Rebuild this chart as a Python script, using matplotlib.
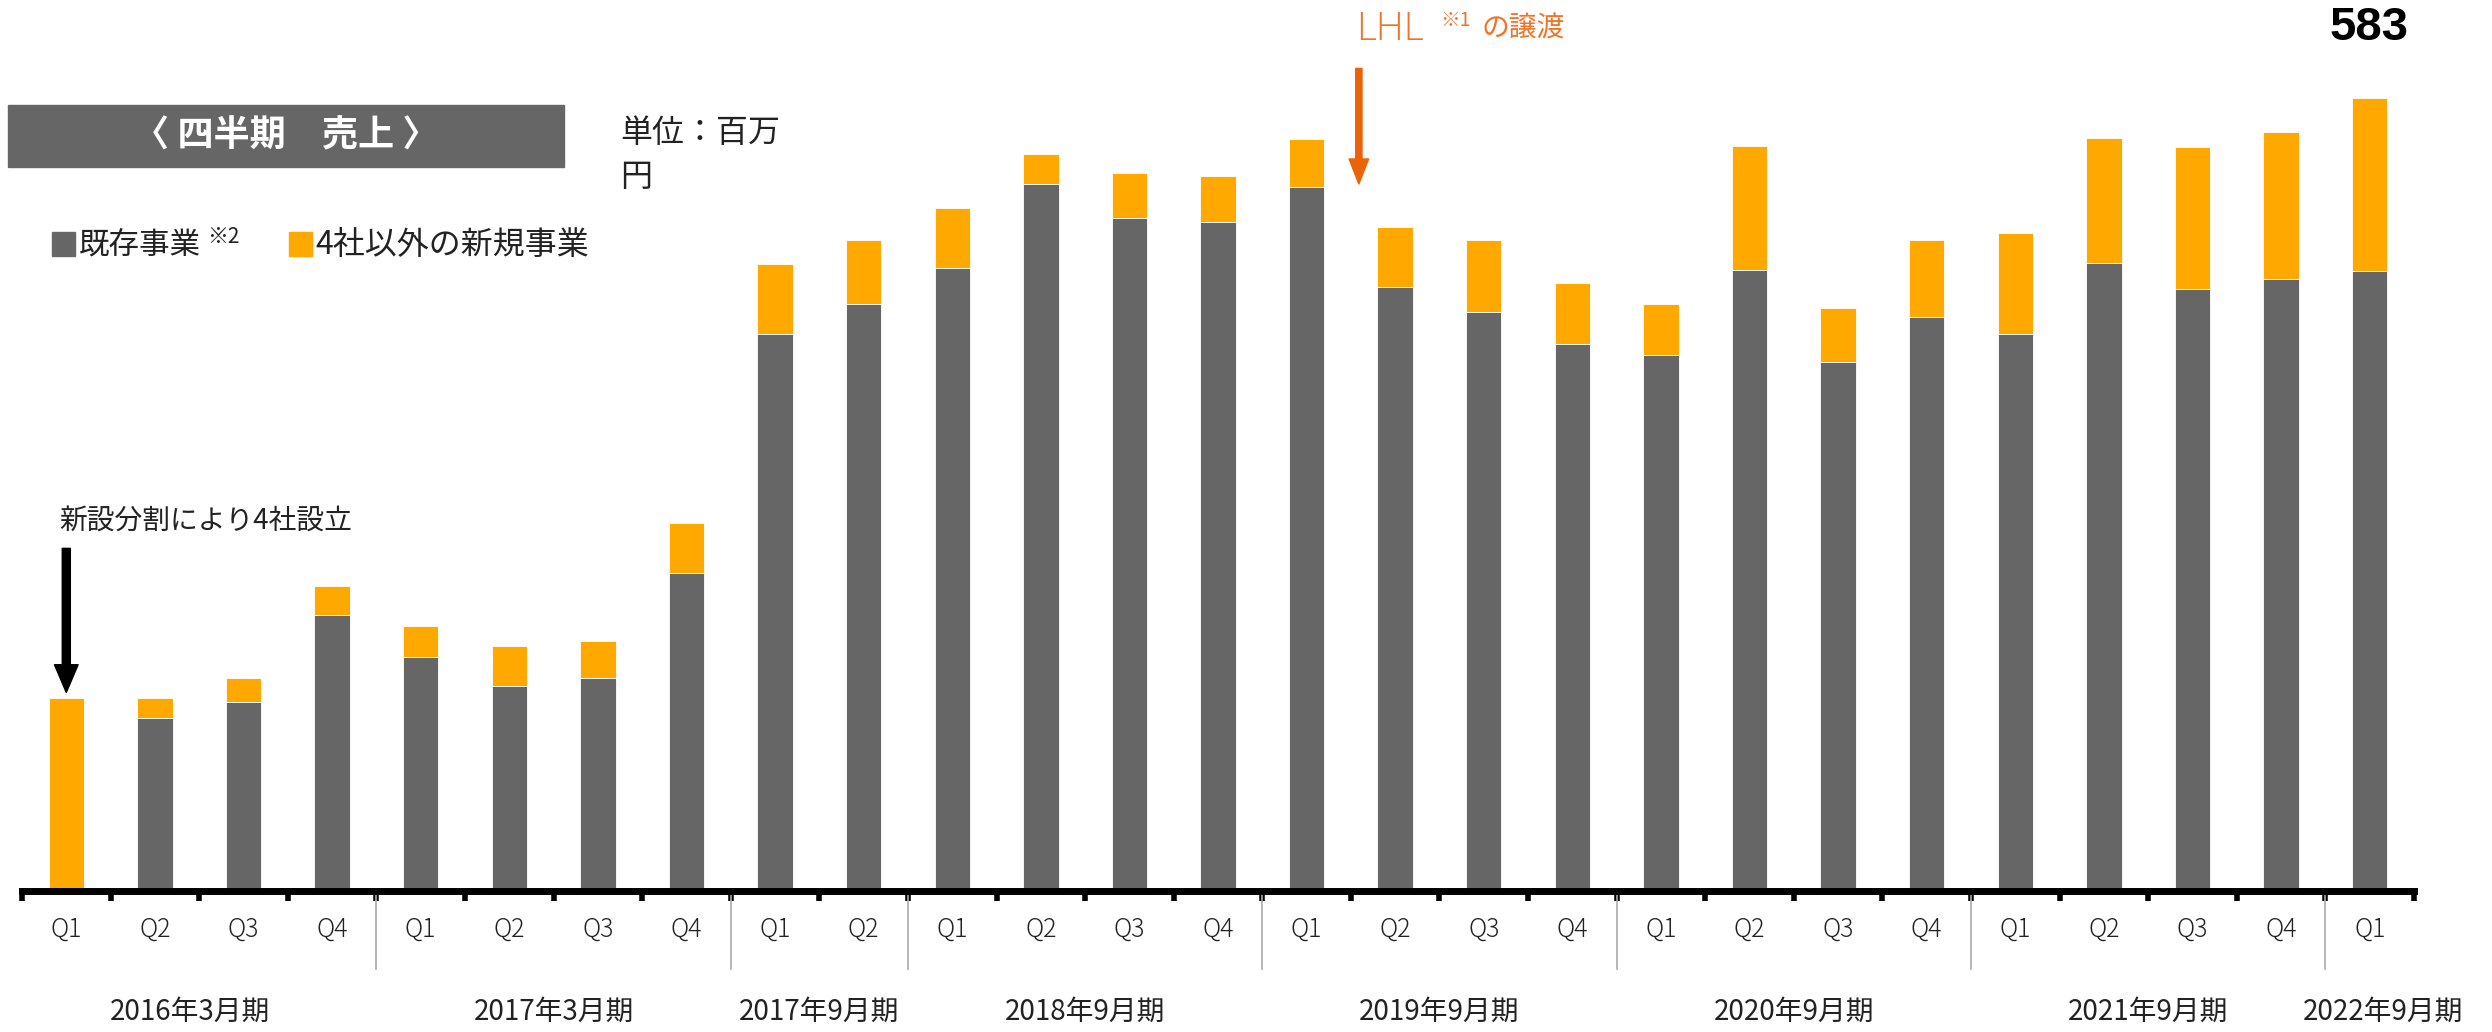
import numpy as np
import matplotlib
matplotlib.use("Agg")
import matplotlib.pyplot as plt
from matplotlib.patches import Rectangle

plt.rcParams["font.family"] = ["Noto Sans CJK JP", "DejaVu Sans"]

# quarterly sales (million yen)
quarters = ["Q1", "Q2", "Q3", "Q4", "Q1", "Q2", "Q3", "Q4", "Q1", "Q2",
            "Q1", "Q2", "Q3", "Q4", "Q1", "Q2", "Q3", "Q4",
            "Q1", "Q2", "Q3", "Q4", "Q1", "Q2", "Q3", "Q4", "Q1"]
existing = [0, 127, 139, 203, 172, 151, 157, 234, 410, 432,
            458, 520, 495, 492, 518, 444, 426, 402,
            394, 457, 389, 422, 410, 462, 443, 450, 456]
new_biz = [142, 15, 18, 21, 23, 29, 27, 37, 51, 47,
           44, 22, 33, 34, 35, 44, 53, 45,
           38, 91, 40, 57, 74, 92, 104, 108, 127]
periods = ["2016年3月期", "2017年3月期", "2017年9月期", "2018年9月期",
           "2019年9月期", "2020年9月期", "2021年9月期", "2022年9月期"]
period_sizes = [4, 4, 2, 4, 4, 4, 4, 1]

GRAY = "#666666"
ORANGE = "#FFA800"
ARROW_ORANGE = "#EB6209"
TEXT_ORANGE = "#EF7428"

W, H = 2492, 1032
fig = plt.figure(figsize=(W / 100, H / 100), dpi=100)


def fx(px):
    return px / W


def fy(py):
    return 1 - py / H


ax = fig.add_axes([fx(22), fy(891), fx(2392), 843 / H])
x = np.arange(len(quarters))
ax.bar(x, existing, width=0.4, color=GRAY, edgecolor="white", linewidth=0.6)
ax.bar(x, new_biz, width=0.4, bottom=existing, color=ORANGE, edgecolor="white", linewidth=0.6)

ax.set_xlim(-0.5, len(quarters) - 0.5)
ax.set_ylim(0, 620)
for s in ["top", "right", "left"]:
    ax.spines[s].set_visible(False)
ax.spines["bottom"].set_linewidth(5)
ax.set_yticks([])
ax.set_xticks(np.arange(len(quarters) + 1) - 0.5)
ax.set_xticklabels([])
ax.tick_params(axis="x", length=7, width=4, color="black")

trans = ax.get_xaxis_transform()
for i, q in enumerate(quarters):
    ax.text(i, -0.046, q, transform=trans, ha="center", va="center",
            fontsize=18, color="#222222", fontweight="light")

start = 0
for name, n in zip(periods, period_sizes):
    center = start + (n - 1) / 2
    if name == "2022年9月期":
        center += 0.15
    elif name == "2016年3月期":
        center -= 0.1
    ax.text(center, -0.143, name, transform=trans, ha="center", va="center",
            fontsize=20, color="#222222")
    start += n
    if start < len(quarters):
        ax.plot([start - 0.5, start - 0.5], [0, -0.0925], transform=trans,
                color="#AAAAAA", lw=1.2, clip_on=False)

# arrows
ax.annotate("", xy=(0, 146), xytext=(0, 252),
            arrowprops=dict(width=5.8, headwidth=17, headlength=20,
                            color="black", shrink=0))
ax.annotate("", xy=(14.59, 520), xytext=(14.59, 605),
            arrowprops=dict(width=4.5, headwidth=14, headlength=18,
                            color=ARROW_ORANGE, shrink=0), annotation_clip=False)

ax.text(-0.08, (891 - 521) / 1.36, "新設分割により4社設立", ha="left", va="center",
        fontsize=20, color="#222222")

# title box
fig.patches.append(Rectangle((fx(8), fy(167)), fx(556), 62 / H,
                             transform=fig.transFigure, color=GRAY, zorder=0))
fig.text(fx(286), fy(136), "〈 四半期　売上 〉", ha="center", va="center",
         fontsize=26, fontweight="bold", color="white")
fig.text(fx(620), fy(155), "単位：百万\n円", ha="left", va="center",
         fontsize=23, color="#222222", linespacing=1.5)

# legend
fig.patches.append(Rectangle((fx(52), fy(256)), fx(23), 24 / H,
                             transform=fig.transFigure, color=GRAY))
fig.text(fx(79), fy(245), "既存事業", ha="left", va="center", fontsize=22, color="#222222")
fig.text(fx(207), fy(237), "※2", ha="left", va="center", fontsize=15, color="#222222")
fig.patches.append(Rectangle((fx(289), fy(256)), fx(23), 24 / H,
                             transform=fig.transFigure, color=ORANGE))
fig.text(fx(315), fy(245), "4社以外の新規事業", ha="left", va="center", fontsize=23,
         color="#222222")

# LHL annotation
fig.text(fx(1356), fy(30), "LHL", ha="left", va="center", fontsize=28,
         color=TEXT_ORANGE, fontweight="light", family=["Open Sans", "DejaVu Sans"])
fig.text(fx(1440), fy(20), "※1", ha="left", va="center", fontsize=14, color=TEXT_ORANGE)
fig.text(fx(1482), fy(29), "の譲渡", ha="left", va="center", fontsize=20, color=TEXT_ORANGE)

# latest total
fig.text(fx(2369), fy(28), "583", ha="center", va="center", fontsize=34,
         fontweight="bold", color="black", family=["Liberation Sans", "DejaVu Sans"])

fig.savefig("out.png", dpi=100)
